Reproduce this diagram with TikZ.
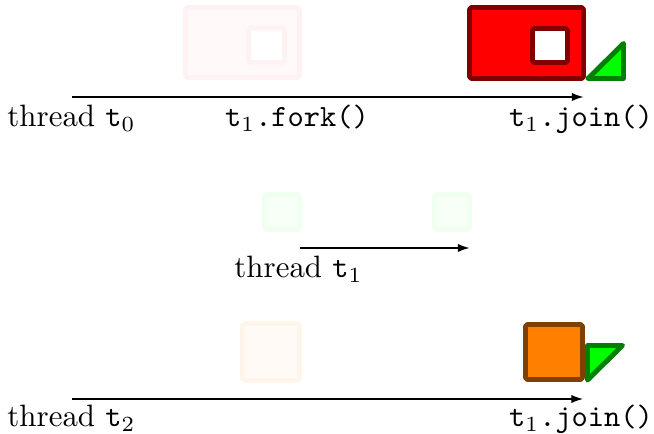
\documentclass[tikz,border=0pt]{standalone}
\usetikzlibrary{arrows.meta}
\begin{document}
\begin{tikzpicture}[x=0.3236pt,y=-0.3236pt,
  blockbox/.style={line width=1.6pt,line join=round,rounded corners=0.6pt},
  tribox/.style={line width=1.6pt,line join=round,draw=green!50!black,fill=green},
  timeline/.style={line width=0.4pt,-{Latex[length=3.8pt,width=2.7pt]}},
  lbl/.style={anchor=base,inner sep=0pt}]
\useasboundingbox (0,0) rectangle (654,434);

% thread t0: faded fork block and the active join block
\draw[blockbox,draw=red!5,fill=red!2.5] (185.5,7.5) rectangle (299.5,77.5);
\draw[blockbox,draw=red!5,fill=white] (248.5,28) rectangle (284.5,62.5);
\draw[blockbox,draw=red!50!black,fill=red] (469.5,7.5) rectangle (583.5,78.5);
\draw[blockbox,draw=red!50!black,fill=white] (532.5,28.5) rectangle (567.5,62.5);
\draw[tribox] (588,78.5) -- (623.5,78.5) -- (623.5,43.5) -- cycle;

\coordinate (t0s) at (72,97);
\coordinate (t0e) at (583.5,97);
\draw[timeline] (t0s) -- (t0e);
\node[lbl] (l0) at (71.5,127) {thread $\mathtt{t}_0$};
\node[lbl] (lfork) at (297,127) {$\mathtt{t}_1$\texttt{.fork()}};
\node[lbl] (ljoin0) at (581,127) {$\mathtt{t}_1$\texttt{.join()}};

% thread t1: faded start and end blocks
\draw[blockbox,draw=green!6,fill=green!3] (264.5,194.5) rectangle (299.5,229.5);
\draw[blockbox,draw=green!6,fill=green!3] (434.5,194.5) rectangle (469.5,229.5);
\coordinate (t1s) at (299.5,248);
\coordinate (t1e) at (469.5,248);
\draw[timeline] (t1s) -- (t1e);
\node[lbl] (l1) at (298.5,278) {thread $\mathtt{t}_1$};

% thread t2: faded block and the active join block
\draw[blockbox,draw=orange!8,fill=orange!4] (242.5,323.5) rectangle (299.5,380.5);
\draw[blockbox,draw=orange!50!black,fill=orange] (525.5,324.5) rectangle (582.5,379.5);
\draw[tribox] (587.5,345.5) -- (622.5,345.5) -- (587.5,380) -- cycle;

\coordinate (t2s) at (72,399);
\coordinate (t2e) at (583,399);
\draw[timeline] (t2s) -- (t2e);
\node[lbl] (l2) at (71.5,427) {thread $\mathtt{t}_2$};
\node[lbl] (ljoin2) at (581,427) {$\mathtt{t}_1$\texttt{.join()}};
\end{tikzpicture}
\end{document}
